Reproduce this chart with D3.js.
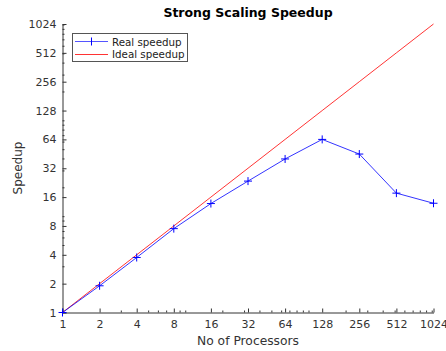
<!DOCTYPE html>
<html>
<head>
<meta charset="utf-8">
<script src="https://cdn.jsdelivr.net/npm/d3@7"></script>
<style>
  body { margin: 0; background: #fff; }
  text { font-family: "DejaVu Sans", sans-serif; }
</style>
</head>
<body>
<div id="plot"></div>
<script>
    const processors = [1, 2, 4, 8, 16, 32, 64, 128, 256, 512, 1024];
    const realSpeedup = [1, 1.9, 3.75, 7.5, 13.7, 23.5, 40, 64, 45, 17.6, 13.8];
    const idealSpeedup = [1, 2, 4, 8, 16, 32, 64, 128, 256, 512, 1024];
    const tickValues = [1, 2, 4, 8, 16, 32, 64, 128, 256, 512, 1024];

    const svg = d3.select("div#plot")
      .append("svg")
        .attr("width", "446")
        .attr("height", "351");

    const xScale = d3.scaleLog().base(2)
      .domain([1, 1024])
      .range([62.5, 433.5]);

    const yScale = d3.scaleLog().base(2)
      .domain([1, 1024])
      .range([312.5, 24]);

    // minor ticks like octave: 2..9 times powers of ten
    const minor = [];
    [1, 10, 100, 1000].forEach(p => {
      for (let k = 1; k <= 9; k++) {
        const v = k * p;
        if (v > 1 && v < 1024 && !tickValues.includes(v)) minor.push(v);
      }
    });

    const xAxis = d3.axisBottom(xScale)
      .tickValues(tickValues)
      .tickFormat(d => d)
      .tickSizeInner(-4)
      .tickSizeOuter(0)
      .tickPadding(8);

    const yAxis = d3.axisLeft(yScale)
      .tickValues(tickValues)
      .tickFormat(d => d)
      .tickSizeInner(-4)
      .tickSizeOuter(0)
      .tickPadding(6);

    const gx = svg.append("g")
      .attr("transform", "translate(0, 312.5)")
      .call(xAxis);

    const gy = svg.append("g")
      .attr("transform", "translate(62.5, 0)")
      .call(yAxis);

    [gx, gy].forEach(g => {
      g.select(".domain").attr("stroke", "#333");
      g.selectAll(".tick line").attr("stroke", "#333");
      g.selectAll(".tick text")
        .attr("fill", "#333")
        .style("font-size", "11px");
    });

    svg.append("g").selectAll("line")
      .data(minor)
      .enter()
      .append("line")
        .attr("x1", d => xScale(d))
        .attr("x2", d => xScale(d))
        .attr("y1", 312.5)
        .attr("y2", 310.5)
        .attr("stroke", "#333");

    svg.append("g").selectAll("line")
      .data(minor)
      .enter()
      .append("line")
        .attr("x1", 62.5)
        .attr("x2", 64.5)
        .attr("y1", d => yScale(d))
        .attr("y2", d => yScale(d))
        .attr("stroke", "#333");

    const line = d3.line()
      .x((d, i) => xScale(processors[i]))
      .y(d => yScale(d));

    svg.append("path")
      .datum(idealSpeedup)
      .attr("fill", "none")
      .attr("stroke", "#ff0000")
      .attr("stroke-width", 0.8)
      .attr("d", line);

    svg.append("path")
      .datum(realSpeedup)
      .attr("fill", "none")
      .attr("stroke", "#0000ff")
      .attr("stroke-width", 0.8)
      .attr("d", line);

    svg.selectAll(".marker")
      .data(realSpeedup)
      .enter()
      .append("path")
        .attr("class", "marker")
        .attr("transform", (d, i) => `translate(${xScale(processors[i])}, ${yScale(d)})`)
        .attr("d", "M-4,0H4M0,-4V4")
        .attr("stroke", "#0000ff")
        .attr("stroke-width", 1);

    svg.append("text")
      .attr("x", 248)
      .attr("y", 17)
      .attr("text-anchor", "middle")
      .style("font-size", "12.5px")
      .style("font-weight", "bold")
      .text("Strong Scaling Speedup");

    svg.append("text")
      .attr("transform", "rotate(-90)")
      .attr("x", -168)
      .attr("y", 22)
      .attr("text-anchor", "middle")
      .attr("fill", "#333")
      .style("font-size", "12px")
      .text("Speedup");

    svg.append("text")
      .attr("x", 248)
      .attr("y", 345)
      .attr("text-anchor", "middle")
      .attr("fill", "#333")
      .style("font-size", "12.3px")
      .text("No of Processors");

    const key = svg.append("g")
      .attr("transform", "translate(72, 33)");

    key.append("rect")
      .attr("x", 0.5)
      .attr("y", 0.5)
      .attr("width", 115)
      .attr("height", 28)
      .attr("fill", "#fff")
      .attr("stroke", "#555");

    key.append("path")
      .attr("d", "M3,8.5H36")
      .attr("fill", "none")
      .attr("stroke", "#5555ff");

    key.append("path")
      .attr("d", "M19.5,4.5V12.5")
      .attr("fill", "none")
      .attr("stroke", "#0000ff");

    key.append("text")
      .attr("x", 40)
      .attr("y", 12.5)
      .attr("fill", "#222")
      .style("font-size", "10.3px")
      .text("Real speedup");

    key.append("path")
      .attr("d", "M3,21.5H36")
      .attr("fill", "none")
      .attr("stroke", "#ff3333");

    key.append("text")
      .attr("x", 40)
      .attr("y", 25)
      .attr("fill", "#222")
      .style("font-size", "10.3px")
      .text("Ideal speedup");
</script>
</body>
</html>
